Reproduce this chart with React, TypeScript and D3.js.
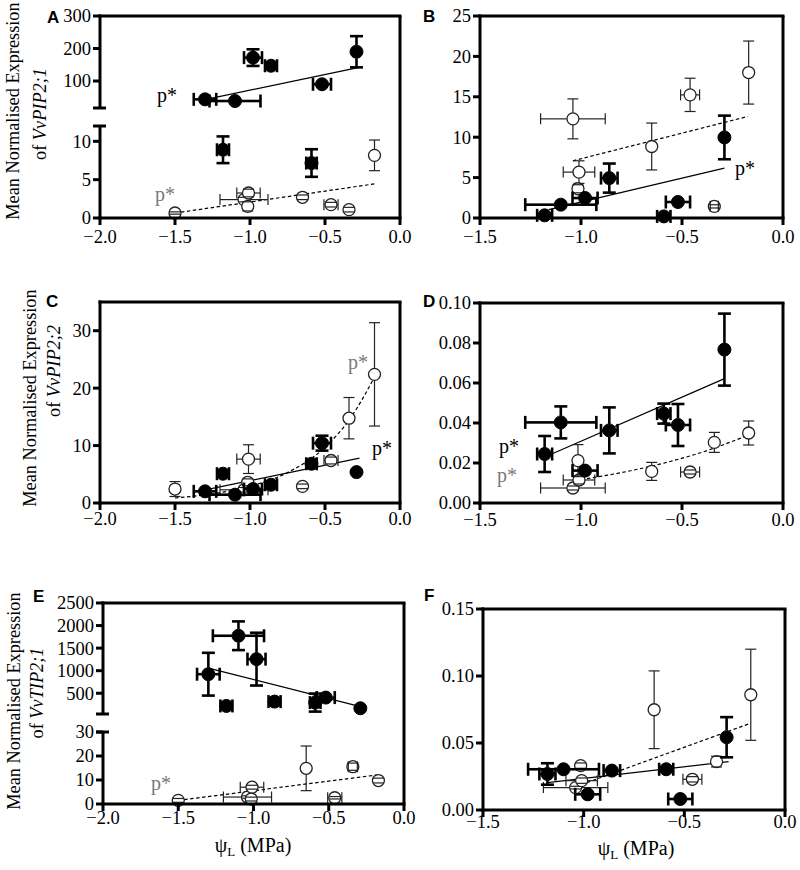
import React from 'react';
import * as d3 from 'd3';

// Each point: [ψL (MPa), ψL error, mean normalised expression, expression error]
type Pt = [number, number, number, number];
type XY = [number, number];

// ---- Panel A: VvPIP2;1 (x axis -2..0) ----
const aFilled: Pt[] = [
  [-1.30, 0.075, 43.6, 13.5],
  [-1.18, 0.04, 8.9, 1.74],
  [-1.10, 0.17, 38.5, 4],
  [-0.98, 0.06, 172, 25.6],
  [-0.86, 0.04, 147, 8],
  [-0.59, 0.035, 7.17, 1.8],
  [-0.52, 0.06, 90, 8],
  [-0.29, 0.01, 190, 48],
];
const aOpen: Pt[] = [
  [-1.50, 0.01, 0.65, 0.15],
  [-1.04, 0.16, 2.4, 0.3],
  [-1.01, 0.078, 3.26, 0.5],
  [-1.015, 0.01, 1.52, 0.6],
  [-0.65, 0.01, 2.7, 0.3],
  [-0.46, 0.047, 1.74, 0.3],
  [-0.34, 0.02, 1.09, 0.3],
  [-0.17, 0.01, 8.17, 2.0],
];
const aFitFilled: XY[] = [[-1.27, 46], [-0.28, 141]];
const aFitOpen: XY[] = [[-1.50, 0.65], [-0.16, 4.48]];

// ---- Panel B (x axis -1.5..0) ----
const bFilled: Pt[] = [
  [-1.18, 0.037, 0.33, 0.2],
  [-1.10, 0.176, 1.65, 0.3],
  [-0.98, 0.062, 2.47, 0.3],
  [-0.86, 0.041, 4.94, 1.8],
  [-0.59, 0.033, 0.2, 0.1],
  [-0.52, 0.06, 1.98, 0.3],
  [-0.29, 0.01, 9.97, 2.7],
];
const bOpen: Pt[] = [
  [-1.04, 0.16, 12.27, 2.47],
  [-1.01, 0.078, 5.68, 1.4],
  [-1.015, 0.01, 3.62, 0.5],
  [-0.65, 0.01, 8.85, 2.9],
  [-0.46, 0.047, 15.24, 2.06],
  [-0.34, 0.02, 1.44, 0.2],
  [-0.17, 0.01, 18.0, 3.9],
];
const bFitFilled: XY[] = [[-1.16, 1.03], [-0.29, 6.18]];
const bFitOpen: XY[] = [[-1.04, 7.08], [-0.175, 12.56]];

// ---- Panel C: VvPIP2;2 ----
const cFilled: Pt[] = [
  [-1.30, 0.075, 2.03, 0.3],
  [-1.18, 0.04, 5.1, 1.0],
  [-1.10, 0.17, 1.45, 0.6],
  [-0.98, 0.06, 2.43, 0.4],
  [-0.86, 0.04, 3.18, 0.5],
  [-0.59, 0.035, 6.83, 1.0],
  [-0.52, 0.06, 10.42, 1.3],
  [-0.29, 0.01, 5.38, 0.9],
];
const cOpen: Pt[] = [
  [-1.50, 0.01, 2.43, 1.3],
  [-1.04, 0.16, 2.3, 0.4],
  [-1.01, 0.078, 7.64, 2.5],
  [-1.015, 0.01, 3.6, 0.6],
  [-0.65, 0.01, 2.9, 0.4],
  [-0.46, 0.047, 7.4, 0.6],
  [-0.34, 0.01, 14.77, 3.6],
  [-0.17, 0.01, 22.4, 9.0],
];
const cFitFilled: XY[] = [[-1.29, 2.32], [-0.27, 7.82]];
const cFitOpen: XY[] = [[-1.5, 0.87], [-1.25, 1.6], [-1.0, 2.9], [-0.75, 5.3], [-0.5, 9.7], [-0.33, 14.8], [-0.16, 22.4]];

// ---- Panel D ----
const dFilled: Pt[] = [
  [-1.18, 0.037, 0.0245, 0.009],
  [-1.10, 0.176, 0.0403, 0.008],
  [-0.98, 0.062, 0.0162, 0.003],
  [-0.86, 0.041, 0.0363, 0.0115],
  [-0.59, 0.033, 0.0447, 0.005],
  [-0.52, 0.06, 0.039, 0.0105],
  [-0.29, 0.01, 0.0767, 0.018],
];
const dOpen: Pt[] = [
  [-1.04, 0.16, 0.0075, 0.001],
  [-1.01, 0.078, 0.0115, 0.002],
  [-1.015, 0.01, 0.0212, 0.008],
  [-0.65, 0.01, 0.0158, 0.0045],
  [-0.46, 0.047, 0.0155, 0.001],
  [-0.34, 0.01, 0.0303, 0.005],
  [-0.17, 0.01, 0.035, 0.006],
];
const dFitFilled: XY[] = [[-1.145, 0.0245], [-0.29, 0.0622]];
const dFitOpen: XY[] = [[-1.0, 0.0117], [-0.8, 0.0152], [-0.6, 0.0197], [-0.4, 0.0254], [-0.175, 0.0338]];

// ---- Panel E: VvTIP2;1 ----
const eFilled: Pt[] = [
  [-1.30, 0.075, 922, 474],
  [-1.18, 0.04, 219, 40],
  [-1.10, 0.17, 1774, 318],
  [-0.98, 0.06, 1256, 585],
  [-0.86, 0.04, 315, 40],
  [-0.59, 0.035, 293, 200],
  [-0.52, 0.06, 404, 40],
  [-0.29, 0.01, 167, 60],
];
const eOpen: Pt[] = [
  [-1.50, 0.01, 1.5, 0.8],
  [-1.04, 0.16, 2.9, 0.5],
  [-1.01, 0.078, 7.0, 0.8],
  [-1.015, 0.01, 2.06, 0.8],
  [-0.65, 0.01, 14.86, 9.3],
  [-0.46, 0.047, 2.6, 0.5],
  [-0.34, 0.03, 15.55, 1.5],
  [-0.17, 0.01, 9.77, 1.0],
];
const eFitFilled: XY[] = [[-1.30, 1056], [-0.29, 204]];
const eFitOpen: XY[] = [[-1.50, 1.5], [-0.18, 12.1]];

// ---- Panel F ----
const fFilled: Pt[] = [
  [-1.18, 0.04, 0.0269, 0.008],
  [-1.10, 0.176, 0.0304, 0.002],
  [-0.98, 0.062, 0.0117, 0.002],
  [-0.86, 0.041, 0.0294, 0.002],
  [-0.59, 0.035, 0.0304, 0.002],
  [-0.52, 0.06, 0.0082, 0.001],
  [-0.29, 0.01, 0.0543, 0.015],
];
const fOpen: Pt[] = [
  [-1.04, 0.16, 0.0167, 0.001],
  [-1.01, 0.078, 0.0219, 0.002],
  [-1.015, 0.01, 0.0331, 0.002],
  [-0.65, 0.01, 0.0748, 0.029],
  [-0.46, 0.047, 0.0229, 0.002],
  [-0.34, 0.01, 0.0361, 0.004],
  [-0.17, 0.01, 0.086, 0.034],
];
const fFitFilled: XY[] = [[-1.18, 0.0204], [-0.28, 0.0361]];
const fFitOpen: XY[] = [[-1.04, 0.0174], [-0.17, 0.0648]];

// ---- tick values ----
const xTicksWide = [-2.0, -1.5, -1.0, -0.5, 0.0];
const xTicksNarrow = [-1.5, -1.0, -0.5, 0.0];
const aTicksUpper = [100, 200, 300];
const aTicksLower = [0, 5, 10];
const bTicks = [0, 5, 10, 15, 20, 25];
const cTicks = [0, 10, 20, 30];
const dTicks = [0, 0.02, 0.04, 0.06, 0.08, 0.10];
const eTicksUpper = [500, 1000, 1500, 2000, 2500];
const eTicksLower = [0, 10, 20, 30];
const fTicks = [0, 0.05, 0.10, 0.15];

const SERIF = '"Liberation Serif", "Times New Roman", Times, serif';
const SANS = '"Liberation Sans", Arial, Helvetica, sans-serif';
const GRAY = '#7a7a7a';

interface Seg { domain: [number, number]; range: [number, number]; ticks: number[]; fmt: (v: number) => string; }
interface Fit { pts: XY[]; dashed: boolean; curve?: boolean; }
interface PLabel { x: number; y: number; gray: boolean; }
interface YTitle { gene: string; l1: [number, number]; l2: [number, number]; }
interface PanelCfg {
  letter: string; letterPos: [number, number];
  x0: number; x1: number; xDomain: [number, number]; xTicks: number[]; xLabelDy: number;
  segs: Seg[];
  filled: Pt[]; open: Pt[];
  fits: Fit[];
  labels: PLabel[];
  yTitle?: YTitle;
  xTitle?: [number, number];
}

const fInt = d3.format('d');
const f2 = d3.format('.2f');
const f1 = d3.format('.1f');

const panels: PanelCfg[] = [
  {
    letter: 'A', letterPos: [47, 23], x0: 100, x1: 400, xDomain: [-2, 0], xTicks: xTicksWide, xLabelDy: 19,
    segs: [
      { domain: [0, 12], range: [218, 126], ticks: aTicksLower, fmt: fInt },
      { domain: [17, 300], range: [108, 16], ticks: aTicksUpper, fmt: fInt },
    ],
    filled: aFilled, open: aOpen,
    fits: [{ pts: aFitFilled, dashed: false }, { pts: aFitOpen, dashed: true }],
    labels: [{ x: 157, y: 102, gray: false }, { x: 155, y: 201, gray: true }],
    yTitle: { gene: 'VvPIP2;1', l1: [19, 111], l2: [46, 114] },
  },
  {
    letter: 'B', letterPos: [423, 22], x0: 480, x1: 783, xDomain: [-1.5, 0], xTicks: xTicksNarrow, xLabelDy: 19,
    segs: [{ domain: [0, 25], range: [218, 16], ticks: bTicks, fmt: fInt }],
    filled: bFilled, open: bOpen,
    fits: [{ pts: bFitFilled, dashed: false }, { pts: bFitOpen, dashed: true }],
    labels: [{ x: 735, y: 175, gray: false }],
  },
  {
    letter: 'C', letterPos: [46, 307], x0: 100, x1: 400, xDomain: [-2, 0], xTicks: xTicksWide, xLabelDy: 16,
    segs: [{ domain: [0, 35], range: [503, 302], ticks: cTicks, fmt: fInt }],
    filled: cFilled, open: cOpen,
    fits: [{ pts: cFitFilled, dashed: false }, { pts: cFitOpen, dashed: true, curve: true }],
    labels: [{ x: 348, y: 369, gray: true }, { x: 372, y: 455, gray: false }],
    yTitle: { gene: 'VvPIP2;2', l1: [36, 398], l2: [60, 371] },
  },
  {
    letter: 'D', letterPos: [423, 307], x0: 480, x1: 783, xDomain: [-1.5, 0], xTicks: xTicksNarrow, xLabelDy: 17,
    segs: [{ domain: [0, 0.1], range: [503, 303], ticks: dTicks, fmt: f2 }],
    filled: dFilled, open: dOpen,
    fits: [{ pts: dFitFilled, dashed: false }, { pts: dFitOpen, dashed: true, curve: true }],
    labels: [{ x: 499, y: 453, gray: false }, { x: 497, y: 482, gray: true }],
  },
  {
    letter: 'E', letterPos: [33, 602], x0: 103, x1: 404, xDomain: [-2, 0], xTicks: xTicksWide, xLabelDy: 14,
    segs: [
      { domain: [0, 30], range: [804, 732], ticks: eTicksLower, fmt: fInt },
      { domain: [40, 2500], range: [714, 603], ticks: eTicksUpper, fmt: fInt },
    ],
    filled: eFilled, open: eOpen,
    fits: [{ pts: eFitFilled, dashed: false }, { pts: eFitOpen, dashed: true }],
    labels: [{ x: 151, y: 790, gray: true }],
    yTitle: { gene: 'VvTIP2;1', l1: [20, 701], l2: [43, 693] },
    xTitle: [253, 852],
  },
  {
    letter: 'F', letterPos: [424, 601], x0: 483, x1: 785, xDomain: [-1.5, 0], xTicks: xTicksNarrow, xLabelDy: 12,
    segs: [{ domain: [0, 0.15], range: [810, 609], ticks: fTicks, fmt: f2 }],
    filled: fFilled, open: fOpen,
    fits: [{ pts: fFitFilled, dashed: false }, { pts: fFitOpen, dashed: true }],
    labels: [],
    xTitle: [636, 855],
  },
];

function Marker({ p, x, seg, open }: { p: Pt; x: d3.ScaleLinear<number, number>; seg: (v: number) => d3.ScaleLinear<number, number>; open: boolean }) {
  const ys = seg(p[2]);
  const px = x(p[0]);
  const py = ys(p[2]);
  const ex = Math.abs(x(p[0] + p[1]) - px);
  const ey = Math.abs(ys(p[2] + p[3]) - py);
  const r = open ? 6 : 6.5;
  const col = open ? '#222' : '#000';
  const w = open ? 1.2 : 2.6;
  const cap = open ? 5.5 : 6.5;
  const parts: JSX.Element[] = [];
  let k = 0;
  const L = (x1: number, y1: number, x2: number, y2: number) =>
    parts.push(<line key={k++} x1={x1} y1={y1} x2={x2} y2={y2} stroke={col} strokeWidth={w} />);
  // vertical bar
  if (ey > r) { L(px, py - ey, px, py - r); L(px, py + r, px, py + ey); }
  if (open || ey > r) { L(px - cap, py - ey, px + cap, py - ey); L(px - cap, py + ey, px + cap, py + ey); }
  // horizontal bar
  if (ex > r) { L(px - ex, py, px - r, py); L(px + r, py, px + ex, py); }
  if (ex > r * 0.6) { L(px - ex, py - cap, px - ex, py + cap); L(px + ex, py - cap, px + ex, py + cap); }
  return (
    <g>
      <circle cx={px} cy={py} r={r} fill={open ? '#fff' : '#000'} stroke={col} strokeWidth={open ? 1.3 : 1} />
      {parts}
    </g>
  );
}

function Panel({ cfg }: { cfg: PanelCfg }) {
  const x = d3.scaleLinear().domain(cfg.xDomain).range([cfg.x0, cfg.x1]);
  const scales = cfg.segs.map(s => d3.scaleLinear().domain(s.domain).range(s.range));
  const pick = (v: number) => {
    for (let i = 0; i < cfg.segs.length; i++) {
      const d = cfg.segs[i].domain;
      if (v >= d[0] && v <= d[1]) return scales[i];
    }
    return v < cfg.segs[0].domain[0] ? scales[0] : scales[scales.length - 1];
  };
  const bottom = cfg.segs[0].range[0];
  const top = cfg.segs[cfg.segs.length - 1].range[1];
  const axisW = 3;
  const tickLen = 7;
  const fontTick = 18.5;

  return (
    <g>
      {/* fit lines */}
      {cfg.fits.map((f, i) => {
        const ys = pick(f.pts[0][1]);
        const gen = d3.line<XY>().x(d => x(d[0])).y(d => ys(d[1]));
        if (f.curve) gen.curve(d3.curveMonotoneX);
        return <path key={'f' + i} d={gen(f.pts) || ''} fill="none" stroke="#000" strokeWidth={1.2}
          strokeDasharray={f.dashed ? '3.5,2.5' : undefined} />;
      })}
      {cfg.open.map((p, i) => <Marker key={'o' + i} p={p} x={x} seg={pick} open={true} />)}
      {cfg.filled.map((p, i) => <Marker key={'c' + i} p={p} x={x} seg={pick} open={false} />)}

      {/* frame */}
      <line x1={cfg.x0 - 1.5} y1={bottom} x2={cfg.x1 + 1.5} y2={bottom} stroke="#000" strokeWidth={axisW} />
      <line x1={cfg.x0 - 1.5} y1={top} x2={cfg.x1 + 1.5} y2={top} stroke="#000" strokeWidth={axisW} />
      <line x1={cfg.x1} y1={top} x2={cfg.x1} y2={bottom} stroke="#000" strokeWidth={axisW} />
      {cfg.segs.map((s, i) => (
        <g key={'s' + i}>
          <line x1={cfg.x0} y1={s.range[0] + (i === 0 ? 1.5 : 0)} x2={cfg.x0} y2={s.range[1] - (i === cfg.segs.length - 1 ? 1.5 : 0)} stroke="#000" strokeWidth={axisW} />
          {cfg.segs.length > 1 && i === 0 && (
            <line x1={cfg.x0 - tickLen} y1={s.range[1]} x2={cfg.x0 + 6} y2={s.range[1]} stroke="#000" strokeWidth={axisW} />
          )}
          {cfg.segs.length > 1 && i > 0 && (
            <line x1={cfg.x0 - tickLen} y1={s.range[0]} x2={cfg.x0 + 6} y2={s.range[0]} stroke="#000" strokeWidth={axisW} />
          )}
          {s.ticks.map((t, j) => {
            const ty = scales[i](t);
            return (
              <g key={j}>
                <line x1={cfg.x0 - tickLen} y1={ty} x2={cfg.x0} y2={ty} stroke="#000" strokeWidth={axisW} />
                <text x={cfg.x0 - 9} y={ty} dy="0.35em" textAnchor="end" fontFamily={SERIF} fontSize={fontTick} fill="#000">{s.fmt(t)}</text>
              </g>
            );
          })}
        </g>
      ))}
      {cfg.xTicks.map((t, j) => (
        <g key={'x' + j}>
          <line x1={x(t)} y1={bottom} x2={x(t)} y2={bottom + tickLen} stroke="#000" strokeWidth={axisW} />
          <text x={x(t)} y={bottom + cfg.xLabelDy} dy="0.35em" textAnchor="middle" fontFamily={SERIF} fontSize={fontTick} fill="#000">{f1(t)}</text>
        </g>
      ))}

      {/* significance labels */}
      {cfg.labels.map((l, i) => (
        <text key={'l' + i} x={l.x} y={l.y} fontFamily={SERIF} fontSize={20} fill={l.gray ? GRAY : '#000'}>p*</text>
      ))}

      {/* panel letter */}
      <text x={cfg.letterPos[0]} y={cfg.letterPos[1]} fontFamily={SANS} fontWeight="bold" fontSize={17} fill="#000">{cfg.letter}</text>

      {cfg.yTitle && (
        <g fontFamily={SERIF} fontSize={18.3} fill="#000">
          <text transform={`translate(${cfg.yTitle.l1[0]},${cfg.yTitle.l1[1]}) rotate(-90)`} textAnchor="middle">Mean Normalised Expression</text>
          <text transform={`translate(${cfg.yTitle.l2[0]},${cfg.yTitle.l2[1]}) rotate(-90)`} textAnchor="middle">
            of <tspan fontStyle="italic">{cfg.yTitle.gene}</tspan>
          </text>
        </g>
      )}
      {cfg.xTitle && (
        <text x={cfg.xTitle[0]} y={cfg.xTitle[1]} textAnchor="middle" fontFamily={SERIF} fontSize={20} fill="#000">
          ψ<tspan fontSize={13} dy={4}>L</tspan><tspan dy={-4}> (MPa)</tspan>
        </text>
      )}
    </g>
  );
}

export default function App() {
  return (
    <svg width={800} height={870} viewBox="0 0 800 870" style={{ position: 'absolute', left: 0, top: 0, background: '#fff' }}>
      <rect x={0} y={0} width={800} height={870} fill="#fff" />
      {panels.map((p, i) => <Panel key={i} cfg={p} />)}
    </svg>
  );
}
